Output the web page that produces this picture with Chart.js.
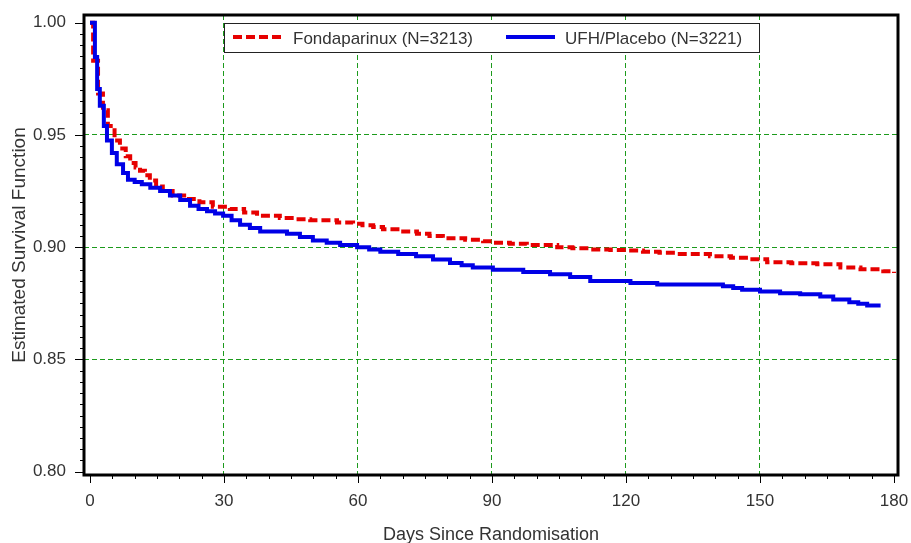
<!DOCTYPE html>
<html>
<head>
<meta charset="utf-8">
<script src="https://cdn.jsdelivr.net/npm/chart.js@4/dist/chart.umd.min.js"></script>
<style>
  html, body { margin: 0; padding: 0; background: #fff; }
  #wrap { width: 911px; height: 543px; }
</style>
</head>
<body>
<div id="wrap"><canvas id="km" width="911" height="543"></canvas></div>
<script>
// series names
const seriesLabels = ['Fondaparinux (N=3213)', 'UFH/Placebo (N=3221)'];

// Fondaparinux: days and survival steps
const fondaDays = [0, 0.7, 1.8, 2.9, 4.0, 5.5, 6.7, 8.0, 9.0, 10.2, 11.2, 12.3, 13.4, 14.8, 16.3, 18.5, 21.7, 24.5, 27.5, 31.3, 34.5, 37.4, 42.5, 46.0, 49.3, 55.3, 58.9, 61.0, 63.4, 65.6, 69.5, 73.2, 76.0, 79.0, 84.0, 88.0, 90.2, 94.0, 97.8, 104.6, 108.0, 112.0, 116.5, 120.2, 123.8, 127.5, 131.4, 138.8, 143.5, 147.8, 151.6, 157.0, 162.8, 168.0, 172.5, 177.6, 180.0];
const fondaSurv = [1.000, 0.983, 0.9685, 0.961, 0.954, 0.9475, 0.944, 0.9405, 0.9375, 0.9355, 0.934, 0.932, 0.9297, 0.927, 0.925, 0.923, 0.9215, 0.92, 0.918, 0.917, 0.9155, 0.914, 0.913, 0.9125, 0.912, 0.911, 0.9105, 0.9098, 0.909, 0.908, 0.907, 0.906, 0.905, 0.904, 0.9033, 0.9027, 0.902, 0.9015, 0.901, 0.900, 0.8995, 0.899, 0.8988, 0.8985, 0.898, 0.8975, 0.897, 0.896, 0.8953, 0.8946, 0.8933, 0.8928, 0.8924, 0.891, 0.8902, 0.8893, 0.8885];

// UFH/Placebo
const ufhDays = [0, 1.1, 1.6, 2.2, 3.1, 3.8, 4.9, 6.0, 7.4, 8.5, 10.0, 11.6, 13.5, 15.7, 17.9, 20.2, 22.4, 24.3, 26.2, 28.0, 29.8, 31.7, 33.6, 35.8, 38.1, 44.1, 47.0, 49.9, 53.0, 56.0, 59.8, 62.5, 65.0, 69.0, 73.0, 76.8, 80.6, 83.2, 85.7, 90.2, 97.0, 103.0, 107.5, 112.0, 121.0, 127.0, 141.7, 144.0, 146.0, 150.0, 154.5, 159.0, 163.5, 166.4, 170.0, 172.0, 174.0, 177.0];
const ufhSurv = [1.000, 0.9847, 0.9705, 0.963, 0.954, 0.9475, 0.942, 0.937, 0.933, 0.930, 0.929, 0.928, 0.9265, 0.925, 0.923, 0.921, 0.9185, 0.917, 0.916, 0.915, 0.914, 0.912, 0.910, 0.9085, 0.907, 0.906, 0.9045, 0.903, 0.902, 0.901, 0.900, 0.899, 0.898, 0.897, 0.896, 0.8945, 0.893, 0.892, 0.891, 0.890, 0.889, 0.888, 0.8867, 0.885, 0.884, 0.8834, 0.8826, 0.8818, 0.881, 0.8803, 0.8795, 0.879, 0.878, 0.8767, 0.8755, 0.8748, 0.874, 0.874];

// axes
const xTickValues = [0, 30, 60, 90, 120, 150, 180];
const yTickValues = [0.80, 0.85, 0.90, 0.95, 1.00];
const xMinorStep = 5;
const yMinorStep = 0.005;

const FONT = '"Liberation Sans", Arial, sans-serif';
const RED = '#e60000';
const BLUE = '#0000e6';
const GRID = '#1c9a1c';

const toPoints = (days, surv) => days.map((d, i) => ({ x: d, y: surv[i] }));

// frame, minor/major tick marks and legend box
const decor = {
    id: 'decor',
    afterDatasetsDraw(chart) {
        const { ctx, chartArea: a, scales: { x, y } } = chart;
        ctx.save();
        ctx.strokeStyle = '#000';
        ctx.lineWidth = 1;
        ctx.beginPath();
        for (let v = 0; v <= 180.001; v += xMinorStep) {
            const px = Math.round(x.getPixelForValue(v)) + 0.5;
            const len = (Math.round(v) % 30 === 0) ? 8 : 4;
            ctx.moveTo(px, a.bottom);
            ctx.lineTo(px, a.bottom + len);
        }
        for (let i = 0; i <= 40; i++) {
            const v = 0.80 + i * yMinorStep;
            const py = Math.round(y.getPixelForValue(v)) + 0.5;
            const len = (i % 10 === 0) ? 9 : 4;
            ctx.moveTo(a.left, py);
            ctx.lineTo(a.left - len, py);
        }
        ctx.stroke();

        // legend
        const lx = 224, ly = 23, lw = 535, lh = 29;
        ctx.fillStyle = '#fff';
        ctx.fillRect(lx, ly, lw, lh);
        ctx.strokeStyle = '#222';
        ctx.lineWidth = 1;
        ctx.strokeRect(lx + 0.5, ly + 0.5, lw, lh);
        const cy = ly + lh / 2 + 0.5;
        const items = [
            { x: 233, ds: chart.data.datasets[0], tx: 293 },
            { x: 506, ds: chart.data.datasets[1], tx: 565 }
        ];
        ctx.font = '17px ' + FONT;
        ctx.textBaseline = 'middle';
        items.forEach(it => {
            ctx.strokeStyle = it.ds.borderColor;
            ctx.lineWidth = 4;
            ctx.setLineDash(it.ds.borderDash || []);
            ctx.beginPath();
            ctx.moveTo(it.x, cy - 1);
            ctx.lineTo(it.x + 49, cy - 1);
            ctx.stroke();
            ctx.setLineDash([]);
            ctx.fillStyle = '#333';
            ctx.fillText(it.ds.label, it.tx, cy + 1);
        });

        // plot frame
        ctx.strokeStyle = '#000';
        ctx.lineWidth = 3;
        ctx.strokeRect(a.left, a.top, a.right - a.left, a.bottom - a.top);
        ctx.restore();
    }
};

const gridColor = (ctx, lo, hi) => {
    const v = ctx.tick && ctx.tick.value;
    return (v > lo && v < hi) ? GRID : 'rgba(255,255,255,0)';
};

new Chart(document.getElementById('km'), {
    type: 'line',
    data: {
        datasets: [
            {
                label: seriesLabels[0],
                data: toPoints(fondaDays, fondaSurv),
                borderColor: RED,
                borderWidth: 4,
                borderDash: [9, 4],
                stepped: 'before',
                pointRadius: 0,
                fill: false,
                order: 1
            },
            {
                label: seriesLabels[1],
                data: toPoints(ufhDays, ufhSurv),
                borderColor: BLUE,
                borderWidth: 4,
                stepped: 'before',
                pointRadius: 0,
                fill: false,
                order: 0
            }
        ]
    },
    options: {
        responsive: false,
        animation: false,
        layout: { padding: { left: 0, top: 15, right: 13, bottom: 0 } },
        plugins: { legend: { display: false }, tooltip: { enabled: false } },
        scales: {
            x: {
                type: 'linear',
                min: -1.343,
                max: 180.9,
                afterBuildTicks: s => { s.ticks = xTickValues.map(v => ({ value: v })); },
                afterFit: s => { s.height = 68; s.paddingLeft = 0; s.paddingRight = 0; },
                grid: { color: c => gridColor(c, 0.5, 179.5), lineWidth: 1, drawTicks: false },
                border: { display: false, dash: [5, 3] },
                ticks: {
                    padding: 16,
                    maxRotation: 0,
                    autoSkip: false,
                    color: '#333',
                    font: { family: FONT, size: 17 },
                    callback: v => String(v)
                },
                title: {
                    display: true,
                    text: 'Days Since Randomisation',
                    color: '#333',
                    font: { family: FONT, size: 18, lineHeight: 1 },
                    padding: { top: 0, bottom: -1 }
                }
            },
            y: {
                type: 'linear',
                min: 0.79853,
                max: 1.00343,
                afterBuildTicks: s => { s.ticks = yTickValues.map(v => ({ value: v })); },
                afterFit: s => { s.width = 84; s.paddingTop = 0; s.paddingBottom = 0; },
                grid: { color: c => gridColor(c, 0.801, 0.999), lineWidth: 1, drawTicks: false },
                border: { display: false, dash: [5, 3] },
                ticks: {
                    padding: 18,
                    color: '#333',
                    font: { family: FONT, size: 17 },
                    callback: v => Number(v).toFixed(2)
                },
                title: {
                    display: true,
                    text: 'Estimated Survival Function',
                    color: '#333',
                    font: { family: FONT, size: 19, lineHeight: 1 },
                    padding: { top: 10, bottom: 0 }
                }
            }
        }
    },
    plugins: [decor]
});
</script>
</body>
</html>
